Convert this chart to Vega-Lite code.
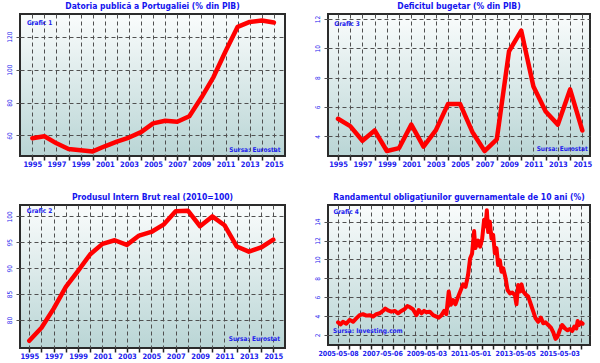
{
  "$schema": "https://vega.github.io/schema/vega-lite/v6.json",
  "background": "white",
  "padding": {"left": 4, "top": 0, "right": 0, "bottom": 0},
  "datasets": {
    "debt": [
      {"year": 1995, "v": 58.3}, {"year": 1996, "v": 59.5}, {"year": 1997, "v": 55.2}, {"year": 1998, "v": 51.8},
      {"year": 1999, "v": 51.0}, {"year": 2000, "v": 50.3}, {"year": 2001, "v": 53.4}, {"year": 2002, "v": 56.2},
      {"year": 2003, "v": 58.7}, {"year": 2004, "v": 62.0}, {"year": 2005, "v": 67.3}, {"year": 2006, "v": 68.9},
      {"year": 2007, "v": 68.3}, {"year": 2008, "v": 71.7}, {"year": 2009, "v": 83.0}, {"year": 2010, "v": 95.5},
      {"year": 2011, "v": 111.2}, {"year": 2012, "v": 126.0}, {"year": 2013, "v": 129.0}, {"year": 2014, "v": 129.8},
      {"year": 2015, "v": 128.6}
    ],
    "deficit": [
      {"year": 1995, "v": 5.2}, {"year": 1996, "v": 4.7}, {"year": 1997, "v": 3.7}, {"year": 1998, "v": 4.4},
      {"year": 1999, "v": 3.0}, {"year": 2000, "v": 3.2}, {"year": 2001, "v": 4.8}, {"year": 2002, "v": 3.3},
      {"year": 2003, "v": 4.4}, {"year": 2004, "v": 6.2}, {"year": 2005, "v": 6.2}, {"year": 2006, "v": 4.3},
      {"year": 2007, "v": 3.0}, {"year": 2008, "v": 3.8}, {"year": 2009, "v": 9.8}, {"year": 2010, "v": 11.2},
      {"year": 2011, "v": 7.4}, {"year": 2012, "v": 5.7}, {"year": 2013, "v": 4.8}, {"year": 2014, "v": 7.2},
      {"year": 2015, "v": 4.4}
    ],
    "gdp": [
      {"year": 1995, "v": 76.0}, {"year": 1996, "v": 78.5}, {"year": 1997, "v": 82.2}, {"year": 1998, "v": 86.4},
      {"year": 1999, "v": 89.5}, {"year": 2000, "v": 92.7}, {"year": 2001, "v": 94.7}, {"year": 2002, "v": 95.4},
      {"year": 2003, "v": 94.5}, {"year": 2004, "v": 96.3}, {"year": 2005, "v": 97.0}, {"year": 2006, "v": 98.4},
      {"year": 2007, "v": 101.0}, {"year": 2008, "v": 101.1}, {"year": 2009, "v": 98.1}, {"year": 2010, "v": 100.0},
      {"year": 2011, "v": 98.3}, {"year": 2012, "v": 94.2}, {"year": 2013, "v": 93.2}, {"year": 2014, "v": 94.0},
      {"year": 2015, "v": 95.5}
    ],
    "yields": [
      {"date": "2005-05-08", "v": 3.34}, {"date": "2005-06-19", "v": 3.13}, {"date": "2005-07-27", "v": 3.4},
      {"date": "2005-09-21", "v": 3.2}, {"date": "2005-11-16", "v": 3.6}, {"date": "2006-01-10", "v": 3.4},
      {"date": "2006-03-04", "v": 3.76}, {"date": "2006-04-28", "v": 4.1}, {"date": "2006-06-23", "v": 4.2},
      {"date": "2006-08-17", "v": 4.05}, {"date": "2006-10-11", "v": 4.1}, {"date": "2006-12-05", "v": 3.95},
      {"date": "2007-01-29", "v": 4.2}, {"date": "2007-03-24", "v": 4.3}, {"date": "2007-05-18", "v": 4.55},
      {"date": "2007-06-26", "v": 4.8}, {"date": "2007-08-09", "v": 4.6}, {"date": "2007-10-03", "v": 4.47},
      {"date": "2007-11-28", "v": 4.55}, {"date": "2008-01-22", "v": 4.3}, {"date": "2008-03-16", "v": 4.55},
      {"date": "2008-05-10", "v": 4.75}, {"date": "2008-06-23", "v": 5.07}, {"date": "2008-08-01", "v": 4.96},
      {"date": "2008-09-26", "v": 4.7}, {"date": "2008-11-20", "v": 4.1}, {"date": "2008-12-28", "v": 4.65},
      {"date": "2009-02-11", "v": 4.3}, {"date": "2009-03-25", "v": 4.55}, {"date": "2009-05-03", "v": 4.4},
      {"date": "2009-06-27", "v": 4.47}, {"date": "2009-08-21", "v": 4.1}, {"date": "2009-10-15", "v": 3.95},
      {"date": "2009-11-23", "v": 3.84}, {"date": "2010-01-07", "v": 4.1}, {"date": "2010-02-20", "v": 4.55},
      {"date": "2010-03-28", "v": 4.2}, {"date": "2010-05-06", "v": 6.6}, {"date": "2010-06-08", "v": 5.2},
      {"date": "2010-07-16", "v": 5.7}, {"date": "2010-08-24", "v": 5.25}, {"date": "2010-10-08", "v": 6.06},
      {"date": "2010-11-21", "v": 6.76}, {"date": "2010-12-29", "v": 7.36}, {"date": "2011-02-07", "v": 7.1},
      {"date": "2011-03-20", "v": 8.35}, {"date": "2011-04-23", "v": 10.1}, {"date": "2011-05-25", "v": 10.6},
      {"date": "2011-06-28", "v": 13.0}, {"date": "2011-07-19", "v": 11.2}, {"date": "2011-09-03", "v": 12.0},
      {"date": "2011-10-05", "v": 11.35}, {"date": "2011-11-08", "v": 12.2}, {"date": "2011-12-10", "v": 14.2},
      {"date": "2012-01-02", "v": 13.5}, {"date": "2012-01-24", "v": 15.2}, {"date": "2012-02-15", "v": 12.9},
      {"date": "2012-03-13", "v": 14.0}, {"date": "2012-04-10", "v": 12.2}, {"date": "2012-05-07", "v": 12.6},
      {"date": "2012-06-04", "v": 10.65}, {"date": "2012-07-01", "v": 11.2}, {"date": "2012-07-28", "v": 9.4},
      {"date": "2012-08-25", "v": 9.9}, {"date": "2012-09-22", "v": 8.7}, {"date": "2012-10-20", "v": 9.06},
      {"date": "2012-11-28", "v": 8.0}, {"date": "2012-12-30", "v": 6.76}, {"date": "2013-02-08", "v": 6.4},
      {"date": "2013-03-16", "v": 6.5}, {"date": "2013-04-29", "v": 6.24}, {"date": "2013-05-26", "v": 5.25},
      {"date": "2013-06-23", "v": 7.3}, {"date": "2013-07-21", "v": 6.6}, {"date": "2013-08-18", "v": 7.36},
      {"date": "2013-09-15", "v": 6.6}, {"date": "2013-10-23", "v": 6.3}, {"date": "2013-12-06", "v": 6.06},
      {"date": "2014-01-20", "v": 5.2}, {"date": "2014-02-28", "v": 4.47}, {"date": "2014-04-06", "v": 3.76},
      {"date": "2014-05-19", "v": 3.4}, {"date": "2014-07-02", "v": 3.84}, {"date": "2014-08-10", "v": 3.24},
      {"date": "2014-09-18", "v": 3.34}, {"date": "2014-11-01", "v": 3.06}, {"date": "2014-12-15", "v": 2.78},
      {"date": "2015-01-23", "v": 2.28}, {"date": "2015-03-01", "v": 1.58}, {"date": "2015-04-03", "v": 1.82},
      {"date": "2015-05-11", "v": 2.53}, {"date": "2015-06-19", "v": 3.06}, {"date": "2015-08-03", "v": 2.7},
      {"date": "2015-09-16", "v": 2.5}, {"date": "2015-10-24", "v": 2.64}, {"date": "2015-12-02", "v": 2.42},
      {"date": "2016-01-04", "v": 2.88}, {"date": "2016-02-07", "v": 2.7}, {"date": "2016-02-28", "v": 3.48},
      {"date": "2016-03-20", "v": 3.06}, {"date": "2016-04-22", "v": 3.34}, {"date": "2016-05-20", "v": 3.2}
    ]
  },
  "vconcat": [
    {
      "hconcat": [
        {
          "width": 265, "height": 142,
          "title": "Datoria publică a Portugaliei (% din PIB)",
          "layer": [
            {
              "data": {"name": "debt"},
              "mark": {"type": "line", "color": "#ff0000", "strokeWidth": 4.5, "strokeJoin": "round", "strokeCap": "round"},
              "encoding": {
                "x": {"field": "year", "type": "quantitative", "title": null,
                      "scale": {"domain": [1993.98, 2015.92], "nice": false, "zero": false},
                      "axis": {"values": [1995,1996,1997,1998,1999,2000,2001,2002,2003,2004,2005,2006,2007,2008,2009,2010,2011,2012,2013,2014,2015],
                               "tickCount": 100,
                               "labelExpr": "datum.value % 2 == 1 ? format(datum.value, 'd') : ''"}},
                "y": {"field": "v", "type": "quantitative", "title": null,
                      "scale": {"domain": [47.5, 133.8], "nice": false, "zero": false},
                      "axis": {"values": [60, 80, 100, 120], "tickCount": 100, "format": "d"}}
              }
            },
            {
              "data": {"values": [{}]},
              "mark": {"type": "text", "text": "Grafic 1", "align": "left", "baseline": "middle"},
              "encoding": {"x": {"datum": 1994.55, "type": "quantitative"}, "y": {"datum": 128.6, "type": "quantitative"}}
            },
            {
              "data": {"values": [{}]},
              "mark": {"type": "text", "text": "Sursa: Eurostat", "align": "right", "baseline": "middle"},
              "encoding": {"x": {"datum": 2015.55, "type": "quantitative"}, "y": {"datum": 51.3, "type": "quantitative"}}
            }
          ]
        },
        {
          "width": 262, "height": 142,
          "title": "Deficitul bugetar (% din PIB)",
          "layer": [
            {
              "data": {"name": "deficit"},
              "mark": {"type": "line", "color": "#ff0000", "strokeWidth": 4.5, "strokeJoin": "round", "strokeCap": "round"},
              "encoding": {
                "x": {"field": "year", "type": "quantitative", "title": null,
                      "scale": {"domain": [1994.18, 2015.63], "nice": false, "zero": false},
                      "axis": {"values": [1995,1996,1997,1998,1999,2000,2001,2002,2003,2004,2005,2006,2007,2008,2009,2010,2011,2012,2013,2014,2015],
                               "tickCount": 100,
                               "labelExpr": "datum.value % 2 == 1 ? format(datum.value, 'd') : ''"}},
                "y": {"field": "v", "type": "quantitative", "title": null,
                      "scale": {"domain": [2.66, 12.34], "nice": false, "zero": false},
                      "axis": {"values": [4, 6, 8, 10, 12], "tickCount": 100, "format": "d"}}
              }
            },
            {
              "data": {"values": [{}]},
              "mark": {"type": "text", "text": "Grafic 3", "align": "left", "baseline": "middle"},
              "encoding": {"x": {"datum": 1994.7, "type": "quantitative"}, "y": {"datum": 11.66, "type": "quantitative"}}
            },
            {
              "data": {"values": [{}]},
              "mark": {"type": "text", "text": "Sursa: Eurostat", "align": "right", "baseline": "middle"},
              "encoding": {"x": {"datum": 2015.45, "type": "quantitative"}, "y": {"datum": 3.16, "type": "quantitative"}}
            }
          ]
        }
      ]
    },
    {
      "hconcat": [
        {
          "width": 265, "height": 143,
          "title": "Produsul Intern Brut real (2010=100)",
          "layer": [
            {
              "data": {"name": "gdp"},
              "mark": {"type": "line", "color": "#ff0000", "strokeWidth": 4.5, "strokeJoin": "round", "strokeCap": "round"},
              "encoding": {
                "x": {"field": "year", "type": "quantitative", "title": null,
                      "scale": {"domain": [1994.24, 2015.96], "nice": false, "zero": false},
                      "axis": {"values": [1995,1996,1997,1998,1999,2000,2001,2002,2003,2004,2005,2006,2007,2008,2009,2010,2011,2012,2013,2014,2015],
                               "tickCount": 100,
                               "labelExpr": "datum.value % 2 == 1 ? format(datum.value, 'd') : ''"}},
                "y": {"field": "v", "type": "quantitative", "title": null,
                      "scale": {"domain": [74.6, 102.2], "nice": false, "zero": false},
                      "axis": {"values": [80, 85, 90, 95, 100], "tickCount": 100, "format": "d"}}
              }
            },
            {
              "data": {"values": [{}]},
              "mark": {"type": "text", "text": "Grafic 2", "align": "left", "baseline": "middle"},
              "encoding": {"x": {"datum": 1994.8, "type": "quantitative"}, "y": {"datum": 101.0, "type": "quantitative"}}
            },
            {
              "data": {"values": [{}]},
              "mark": {"type": "text", "text": "Sursa: Eurostat", "align": "right", "baseline": "middle"},
              "encoding": {"x": {"datum": 2015.55, "type": "quantitative"}, "y": {"datum": 76.3, "type": "quantitative"}}
            }
          ]
        },
        {
          "width": 262, "height": 140,
          "title": "Randamentul obligaţiunilor guvernamentale de 10 ani (%)",
          "layer": [
            {
              "data": {"name": "yields"},
              "mark": {"type": "line", "color": "#ff0000", "strokeWidth": 4, "strokeJoin": "round", "strokeCap": "round"},
              "encoding": {
                "x": {"field": "date", "type": "temporal", "title": null,
                      "scale": {"type": "utc", "domain": [{"year": 2004, "month": 11, "date": 23, "utc": true}, {"year": 2016, "month": 9, "date": 19, "utc": true}], "nice": false},
                      "axis": {"values": [
                        {"year": 2005, "month": 5, "date": 8, "utc": true}, {"year": 2005, "month": 11, "date": 6, "utc": true},
                        {"year": 2006, "month": 5, "date": 7, "utc": true}, {"year": 2006, "month": 11, "date": 5, "utc": true},
                        {"year": 2007, "month": 5, "date": 6, "utc": true}, {"year": 2007, "month": 11, "date": 4, "utc": true},
                        {"year": 2008, "month": 5, "date": 4, "utc": true}, {"year": 2008, "month": 11, "date": 2, "utc": true},
                        {"year": 2009, "month": 5, "date": 3, "utc": true}, {"year": 2009, "month": 11, "date": 1, "utc": true},
                        {"year": 2010, "month": 5, "date": 2, "utc": true}, {"year": 2010, "month": 10, "date": 31, "utc": true},
                        {"year": 2011, "month": 5, "date": 1, "utc": true}, {"year": 2011, "month": 11, "date": 1, "utc": true},
                        {"year": 2012, "month": 5, "date": 2, "utc": true}, {"year": 2012, "month": 11, "date": 3, "utc": true},
                        {"year": 2013, "month": 5, "date": 5, "utc": true}, {"year": 2013, "month": 11, "date": 3, "utc": true},
                        {"year": 2014, "month": 5, "date": 4, "utc": true}, {"year": 2014, "month": 11, "date": 2, "utc": true},
                        {"year": 2015, "month": 5, "date": 3, "utc": true}, {"year": 2015, "month": 11, "date": 1, "utc": true},
                        {"year": 2016, "month": 5, "date": 1, "utc": true}
                      ],
                      "tickCount": 100,
                      "labelExpr": "indexof(['2005-05-08','2007-05-06','2009-05-03','2011-05-01','2013-05-05','2015-05-03'], utcFormat(datum.value, '%Y-%m-%d')) >= 0 ? utcFormat(datum.value, '%Y-%m-%d') : ''",
                      "labelFontSize": 7}},
                "y": {"field": "v", "type": "quantitative", "title": null,
                      "scale": {"domain": [0.94, 15.76], "nice": false, "zero": false},
                      "axis": {"values": [2, 4, 6, 8, 10, 12, 14], "tickCount": 100, "format": "d"}}
              }
            },
            {
              "data": {"values": [{}]},
              "mark": {"type": "text", "text": "Grafic 4", "align": "left", "baseline": "middle"},
              "encoding": {"x": {"datum": {"year": 2005, "month": 2, "date": 20, "utc": true}, "type": "temporal"}, "y": {"datum": 15.06, "type": "quantitative"}}
            },
            {
              "data": {"values": [{}]},
              "mark": {"type": "text", "text": "Sursa: Investing.com", "align": "left", "baseline": "middle"},
              "encoding": {"x": {"datum": {"year": 2005, "month": 2, "date": 15, "utc": true}, "type": "temporal"}, "y": {"datum": 2.43, "type": "quantitative"}}
            }
          ]
        }
      ]
    }
  ],
  "spacing": 22,
  "config": {
    "concat": {"spacing": 26},
    "view": {
      "stroke": "#2b2b2b",
      "strokeWidth": 2,
      "fill": {"gradient": "linear", "x1": 0, "y1": 0, "x2": 0, "y2": 1,
               "stops": [{"offset": 0, "color": "#fafcfc"}, {"offset": 1, "color": "#b9d5d5"}]}
    },
    "title": {
      "font": "DejaVu Sans Condensed",
      "fontSize": 8.5,
      "fontWeight": "bold",
      "color": "#1414ee",
      "offset": 4,
      "anchor": "middle"
    },
    "text": {
      "font": "DejaVu Sans Condensed",
      "fontSize": 6.5,
      "fontWeight": "bold",
      "color": "#2222ee"
    },
    "axis": {
      "domain": false,
      "grid": true,
      "gridColor": "#505050",
      "gridDash": [4, 3],
      "gridWidth": 1,
      "gridOpacity": 1,
      "labelFont": "DejaVu Sans Condensed",
      "labelColor": "#2222ee"
    },
    "axisX": {
      "ticks": true,
      "tickSize": 4,
      "tickColor": "#222222",
      "tickWidth": 1.5,
      "labelFontSize": 7.5,
      "labelFontWeight": "bold",
      "labelPadding": 0,
      "labelOverlap": false
    },
    "axisY": {
      "ticks": true,
      "tickSize": 7,
      "tickColor": "#505050",
      "tickDash": [4, 3],
      "labelFontSize": 6.5,
      "labelAngle": 270,
      "labelPadding": 1
    }
  }
}
